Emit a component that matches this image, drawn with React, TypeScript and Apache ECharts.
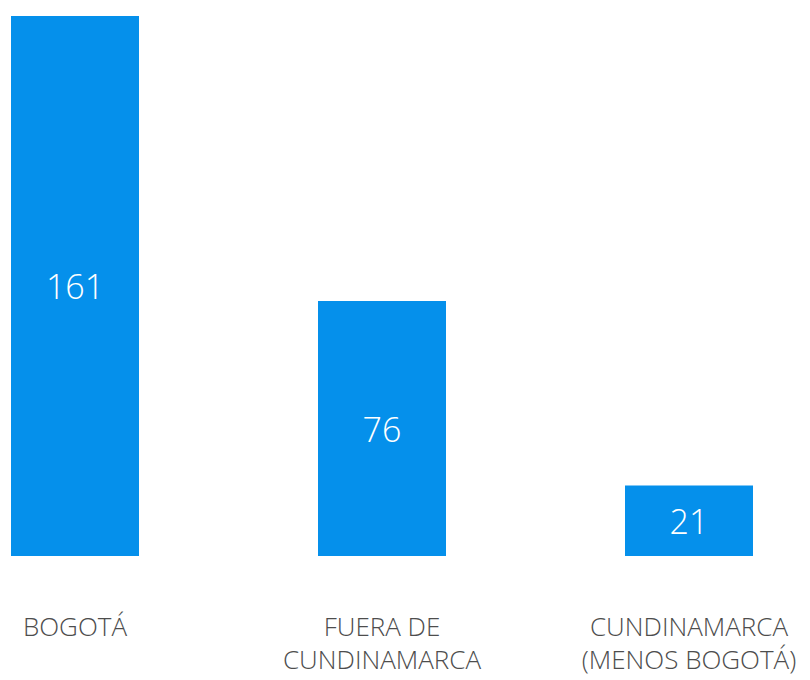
import React, { useEffect, useRef } from "react";
import * as echarts from "echarts";

const categories = ["BOGOTÁ", "FUERA DE\nCUNDINAMARCA", "CUNDINAMARCA\n(MENOS BOGOTÁ)"];
const values = [161, 76, 21];

export default function App() {
  const ref = useRef<HTMLDivElement>(null);
  useEffect(() => {
    if (!ref.current) return;
    const chart = echarts.init(ref.current, null, { renderer: "svg" });
    chart.setOption({
      animation: false,
      grid: {
        left: 75,
        right: 121,
        top: 16,
        bottom: 124,
        containLabel: false,
        outerBoundsMode: "none",
      },
      xAxis: {
        type: "category",
        data: categories,
        boundaryGap: false,
        axisLine: { show: false },
        axisTick: { show: false },
        axisLabel: {
          interval: 0,
          margin: 53,
          color: "#4d4d4d",
          fontFamily: "Open Sans",
          fontWeight: 300,
          fontSize: 26,
          lineHeight: 33,
          align: "center",
        },
      },
      yAxis: {
        type: "value",
        min: 0,
        max: 161,
        show: false,
        splitLine: { show: false },
      },
      series: [
        {
          type: "bar",
          data: values,
          barWidth: 128,
          itemStyle: { color: "#0590EB" },
          label: {
            show: true,
            position: "inside",
            color: "#ffffff",
            fontFamily: "Open Sans",
            fontWeight: 300,
            fontSize: 34,
          },
        },
      ],
    });
    return () => chart.dispose();
  }, []);
  return (
    <div
      ref={ref}
      style={{ position: "absolute", left: 0, top: 0, width: 810, height: 680 }}
    />
  );
}
